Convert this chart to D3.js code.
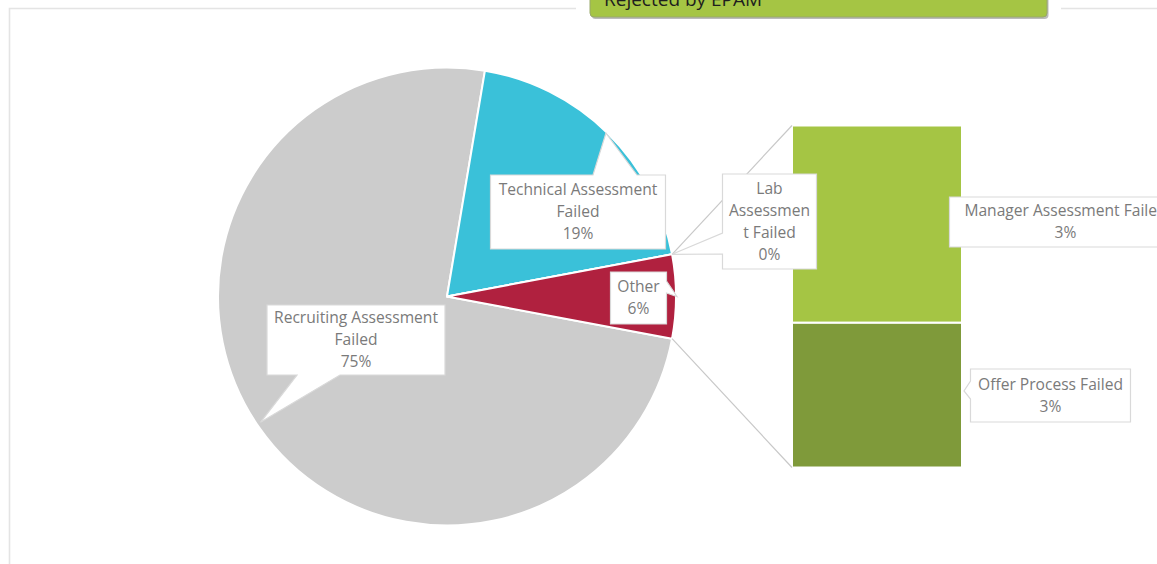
<!DOCTYPE html>
<html><head><meta charset="utf-8">
<script src="https://cdn.jsdelivr.net/npm/d3@7"></script>
<style>
body{margin:0;background:#fff;}
svg{display:block;}
text{font-family:'Open Sans',sans-serif;}
</style>
</head><body>
<svg id="chart" width="1157" height="564"></svg>
<script>
// ---------------- data ----------------
const title = "Rejected by EPAM";
const pieCategories = ["Recruiting Assessment Failed", "Technical Assessment Failed", "Lab Assessment Failed", "Other"];
const pieLabelLines = [["Recruiting Assessment", "Failed"], ["Technical Assessment", "Failed"], ["Lab", "Assessmen", "t Failed"], ["Other"]];
const pieValues = [74.7, 19.4, 0.0];          // Other = sum of barValues
const barCategories = ["Manager Assessment Failed", "Offer Process Failed"];
const barLabelLines = [["Manager Assessment Failed"], ["Offer Process Failed"]];
const barValues = [3.4, 2.5];

// ---------------- layout / style ----------------
const W = 1157, H = 564;
const cx = 447, cy = 296.5, R = 229;
const barX0 = 792, barX1 = 962, barTop = 125.5, barBottom = 467.5;
const pieColors = ["#CCCCCC", "#3AC1D9", "#9E9E9E", "#B0213F"];
const barColors = ["#A5C544", "#7F9A3A"];
const labelColor = "#7A7A7A";
const fontSize = 15.6, lineH = 22;

const svg = d3.select("#chart");

// frame
svg.append("g").attr("fill", "none").attr("stroke", "#E4E4E4").attr("stroke-width", 1.6)
  .selectAll("path").data([
    [[9.5, 564], [9.5, 8.5], [576, 8.5]],
    [[1061, 8.5], [1157, 8.5]]
  ]).join("path").attr("d", d => d3.line()(d));

// ---------------- pie ----------------
const otherValue = d3.sum(barValues);
const pieData = pieValues.concat([otherValue]);
const total = d3.sum(pieData);
const otherAngle = otherValue / total * 2 * Math.PI;
const start = Math.PI / 2 + otherAngle / 2;
const pie = d3.pie().sort(null).value(d => d).startAngle(start).endAngle(start + 2 * Math.PI);
const arcs = pie(pieData);
const arc = d3.arc().innerRadius(0).outerRadius(R);
const pt = (a, r) => [cx + r * Math.sin(a), cy - r * Math.cos(a)];

const gPie = svg.append("g").attr("transform", `translate(${cx},${cy})`);
gPie.selectAll("path").data(arcs).join("path")
  .attr("d", arc)
  .attr("fill", (d, i) => pieColors[i])
  .attr("stroke", "#fff").attr("stroke-width", 2).attr("stroke-linejoin", "round");

// ---------------- bar (second plot) ----------------
const y = d3.scaleLinear().domain([0, otherValue]).range([barBottom, barTop]);
let acc = 0;
const stacked = barValues.map((v, i) => ({v, i})).reverse().map(d => {
  const o = {i: d.i, y0: acc, y1: acc + d.v}; acc += d.v; return o;
});
svg.append("g").selectAll("rect").data(stacked).join("rect")
  .attr("x", barX0).attr("width", barX1 - barX0)
  .attr("y", d => y(d.y1)).attr("height", d => y(d.y0) - y(d.y1))
  .attr("fill", d => barColors[d.i])
  .attr("stroke", "#fff").attr("stroke-width", 2);

// connector lines
const otherArc = arcs[3];
svg.append("g").attr("stroke", "#C8C8C8").attr("stroke-width", 1.2).attr("fill", "none")
  .selectAll("line").data([
    [pt(otherArc.startAngle, R), [barX0, y(otherValue)]],
    [pt(otherArc.endAngle, R), [barX0, y(0)]]
  ]).join("line")
  .attr("x1", d => d[0][0]).attr("y1", d => d[0][1])
  .attr("x2", d => d[1][0]).attr("y2", d => d[1][1]);

// ---------------- callouts ----------------
const pct = v => Math.round(v / total * 100) + "%";
function calloutPath(b, side, base, tip) {
  const x0 = b.x, y0 = b.y, x1 = b.x + b.w, y1 = b.y + b.h;
  let p = `M${x0},${y0}`;
  if (side === "top") p += `H${base[0]}L${tip[0]},${tip[1]}L${base[1]},${y0}`;
  p += `H${x1}`;
  if (side === "right") p += `V${base[0]}L${tip[0]},${tip[1]}L${x1},${base[1]}`;
  p += `V${y1}`;
  if (side === "bottom") p += `H${base[1]}L${tip[0]},${tip[1]}L${base[0]},${y1}`;
  p += `H${x0}`;
  if (side === "left") p += `V${base[1]}L${tip[0]},${tip[1]}L${x0},${base[0]}`;
  return p + "Z";
}
const labArc = arcs[2];
const callouts = [
  {lines: pieLabelLines[0].concat([pct(pieData[0])]), box: {x: 267, y: 305, w: 178, h: 70}, side: "bottom", base: [297, 340], tip: pt(236 * Math.PI / 180, R - 4)},
  {lines: pieLabelLines[1].concat([pct(pieData[1])]), box: {x: 490.5, y: 175, w: 175, h: 74}, side: "top", base: [593, 637], tip: pt(44.2 * Math.PI / 180, R - 1)},
  {lines: pieLabelLines[2].concat([pct(pieData[2])]), box: {x: 722.5, y: 174, w: 94, h: 95}, side: "left", base: [233, 254], tip: pt(labArc.startAngle, R)},
  {lines: pieLabelLines[3].concat([pct(pieData[3])]), box: {x: 610.5, y: 272, w: 56, h: 52}, side: "right", base: [281, 293], tip: pt(Math.PI / 2, R + 1)},
  {lines: barLabelLines[0].concat([pct(barValues[0])]), box: {x: 949.5, y: 197, w: 232, h: 50}, side: "none"},
  {lines: barLabelLines[1].concat([pct(barValues[1])]), box: {x: 970.5, y: 369, w: 160, h: 53}, side: "left", base: [381, 399], tip: [barX1 + 2, 391]}
];
const gC = svg.append("g");
callouts.forEach(c => {
  gC.append("path").attr("d", calloutPath(c.box, c.side, c.base || [], c.tip || []))
    .attr("fill", "#fff").attr("stroke", "#D9D9D9").attr("stroke-width", 1.2);
  const mx = c.box.x + c.box.w / 2, my = c.box.y + c.box.h / 2;
  const n = c.lines.length;
  gC.append("g").selectAll("text").data(c.lines).join("text")
    .attr("x", mx).attr("y", (d, i) => my + (i - (n - 1) / 2) * lineH)
    .attr("dy", "0.35em").attr("text-anchor", "middle")
    .attr("font-size", fontSize).attr("fill", labelColor).text(d => d);
});

// ---------------- title ----------------
const gT = svg.append("g");
gT.append("rect").attr("x", 591.5).attr("y", -20).attr("width", 457).attr("height", 39).attr("rx", 4)
  .attr("fill", "#8E8E8E").attr("opacity", 0.6);
gT.append("rect").attr("x", 590).attr("y", -21).attr("width", 457).attr("height", 38).attr("rx", 4)
  .attr("fill", "#A5C544").attr("stroke", "#98A86A").attr("stroke-width", 1);
gT.append("text").attr("x", 604).attr("y", 6).attr("font-size", 19).attr("fill", "#1E1E1E").text(title);
</script>
</body></html>
